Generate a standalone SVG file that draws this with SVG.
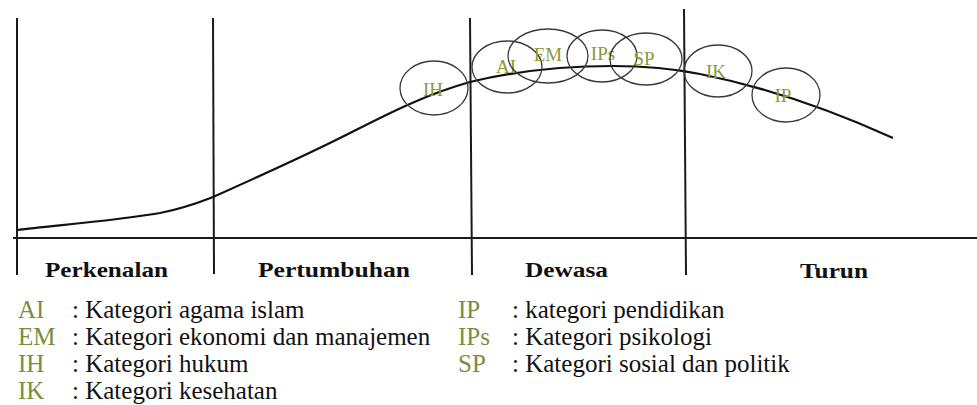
<svg xmlns="http://www.w3.org/2000/svg" width="977" height="405" viewBox="0 0 977 405">
  <style>
    .frame { stroke: #1a1a1a; stroke-width: 2; fill: none; }
    .curve { stroke: #111; stroke-width: 2.2; fill: none; }
    .cat ellipse { stroke: #3a3a3a; stroke-width: 1.3; fill: none; }
    .cat text { font-size: 19px; fill: #8c9a34; text-anchor: middle; }
    .stage { font-size: 21px; font-weight: bold; fill: #111; }
    .key { font-size: 25px; fill: #7a8c3e; }
    .desc { font-size: 25px; fill: #111; }
  </style>

  <!-- axes and stage dividers -->
  <g id="axes">
    <line class="frame" x1="13" y1="238" x2="977" y2="238"/>
    <line class="frame" x1="17" y1="18" x2="17" y2="275"/>
    <line class="frame" x1="213" y1="18" x2="214" y2="274"/>
    <line class="frame" x1="470" y1="18" x2="472" y2="275"/>
    <line class="frame" x1="684" y1="9" x2="686" y2="275"/>
  </g>

  <!-- life-cycle curve -->
  <g id="connectors">
    <path class="curve" d="M17,230 C60,225 120,220 160,213 C185,208 200,202 213,197 C260,176 300,158 340,138 C380,118 420,96 470,82 C520,70 570,66 613,66 C650,66 680,70 700,74 C760,86 820,105 893,138"/>
  </g>

  <g font-family="'Liberation Serif', 'DejaVu Serif', 'Times New Roman', serif">
    <!-- category bubbles -->
    <g id="node-IH" class="cat"><ellipse cx="434" cy="88" rx="34" ry="27"/><text x="433" y="96">IH</text></g>
    <g id="node-AI" class="cat"><ellipse cx="507" cy="67" rx="35" ry="26"/><text x="506" y="73">AI</text></g>
    <g id="node-EM" class="cat"><ellipse cx="548" cy="56" rx="40" ry="27"/><text x="548" y="61">EM</text></g>
    <g id="node-IPs" class="cat"><ellipse cx="602" cy="56" rx="35" ry="26"/><text x="603" y="60">IPs</text></g>
    <g id="node-SP" class="cat"><ellipse cx="646" cy="59" rx="36" ry="26"/><text x="644" y="65">SP</text></g>
    <g id="node-IK" class="cat"><ellipse cx="718" cy="71" rx="34" ry="26"/><text x="716" y="78">IK</text></g>
    <g id="node-IP" class="cat"><ellipse cx="786" cy="95" rx="34" ry="27"/><text x="783" y="102">IP</text></g>

    <!-- stage names -->
    <g id="stages">
      <text class="stage" x="45" y="277" textLength="123" lengthAdjust="spacingAndGlyphs">Perkenalan</text>
      <text class="stage" x="258" y="277" textLength="152" lengthAdjust="spacingAndGlyphs">Pertumbuhan</text>
      <text class="stage" x="525" y="277" textLength="83" lengthAdjust="spacingAndGlyphs">Dewasa</text>
      <text class="stage" x="800" y="278" textLength="68" lengthAdjust="spacingAndGlyphs">Turun</text>
    </g>

    <!-- legend -->
    <g id="legend">
      <text class="key" x="18" y="318">AI</text>
      <text class="desc" x="72" y="318">: Kategori agama islam</text>
      <text class="key" x="18" y="345">EM</text>
      <text class="desc" x="72" y="345">: Kategori ekonomi dan manajemen</text>
      <text class="key" x="18" y="372">IH</text>
      <text class="desc" x="72" y="372">: Kategori hukum</text>
      <text class="key" x="18" y="399">IK</text>
      <text class="desc" x="72" y="399">: Kategori kesehatan</text>

      <text class="key" x="458" y="318">IP</text>
      <text class="desc" x="512" y="318">: kategori pendidikan</text>
      <text class="key" x="458" y="345">IPs</text>
      <text class="desc" x="512" y="345">: Kategori psikologi</text>
      <text class="key" x="458" y="372">SP</text>
      <text class="desc" x="512" y="372">: Kategori sosial dan politik</text>
    </g>
  </g>
</svg>
